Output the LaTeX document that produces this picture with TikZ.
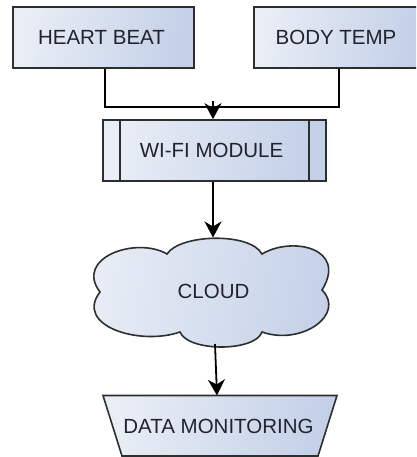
\documentclass[tikz,border=0pt]{standalone}
\usepackage{fontspec}
\setmainfont{Liberation Sans}
\usetikzlibrary{arrows.meta}
\definecolor{fillA}{HTML}{E9EEF6}
\definecolor{fillB}{HTML}{C3D0E7}
\definecolor{edge}{HTML}{2E2E2E}
\definecolor{ink}{HTML}{22232E}
\tikzset{
  blockfill/.style={left color=fillA, right color=fillB, shading angle=80},
  blockline/.style={draw=edge, line width=1.6pt},
  block/.style={blockfill, blockline, rectangle, inner sep=0pt, minimum height=61pt},
  label text/.style={text=ink, font=\fontsize{20.5}{22}\selectfont, inner sep=0pt},
  flow/.style={draw=black, line width=1.8pt, -{Stealth[length=16pt, width=17pt, inset=5pt]}},
  wire/.style={draw=black, line width=1.8pt}
}
\begin{document}
\begin{tikzpicture}[x=1pt, y=-1pt]
  \useasboundingbox (0,0) rectangle (416,457);
  \clip (0,0) rectangle (416,457);

  % sensor inputs
  \node[block, minimum width=181pt] (hb) at (103.5,37.5) {};
  \node[label text] (hbt) at (101.5,37) {HEART BEAT};
  \node[block, minimum width=168pt] (bt) at (338,37.5) {};
  \node[label text] (btt) at (336,37) {BODY TEMP};

  % wifi module (predefined process box)
  \node[block, minimum width=223pt] (wifi) at (214.5,150.5) {};
  \draw[blockline] (wifi.north west) ++(18,0) -- ++(0,61);
  \draw[blockline] (wifi.north east) ++(-18,0) -- ++(0,61);
  \node[label text] (wifit) at (211.5,150) {WI-FI MODULE};

  % cloud
  \path[blockfill, blockline]
    (167,254) .. controls (180,234) and (250,232) .. (262,254)
              .. controls (292,236) and (348,248) .. (322,290)
              .. controls (346,314) and (302,346) .. (262,332)
              .. controls (255,352) and (188,352) .. (180,332)
              .. controls (140,346) and (74,326) .. (100,292)
              .. controls (74,258) and (136,236) .. (167,254) -- cycle;
  \node[label text] (cloud) at (213.5,291) {CLOUD};
  \coordinate (cloudtop) at (213,237.5);
  \coordinate (cloudbot) at (215,344);

  % data monitoring (manual operation trapezium)
  \path[blockfill, blockline]
    (103,395.5) -- (337,395.5) -- (318,456) -- (122,456) -- cycle;
  \node[label text] (dm) at (218.5,426) {DATA MONITORING};
  \coordinate (dmtop) at (217,395.5);

  % connectors
  \coordinate (join) at (213,101);
  \draw[wire] (hb.south -| 105,0) |- (213,107);
  \draw[wire] (bt.south -| 339,0) |- (213,107);
  \draw[flow] (join) -- (wifi.north -| join);
  \draw[flow] (wifi.south -| join) -- (cloudtop);
  \draw[flow] (cloudbot) -- (dmtop);
\end{tikzpicture}
\end{document}
